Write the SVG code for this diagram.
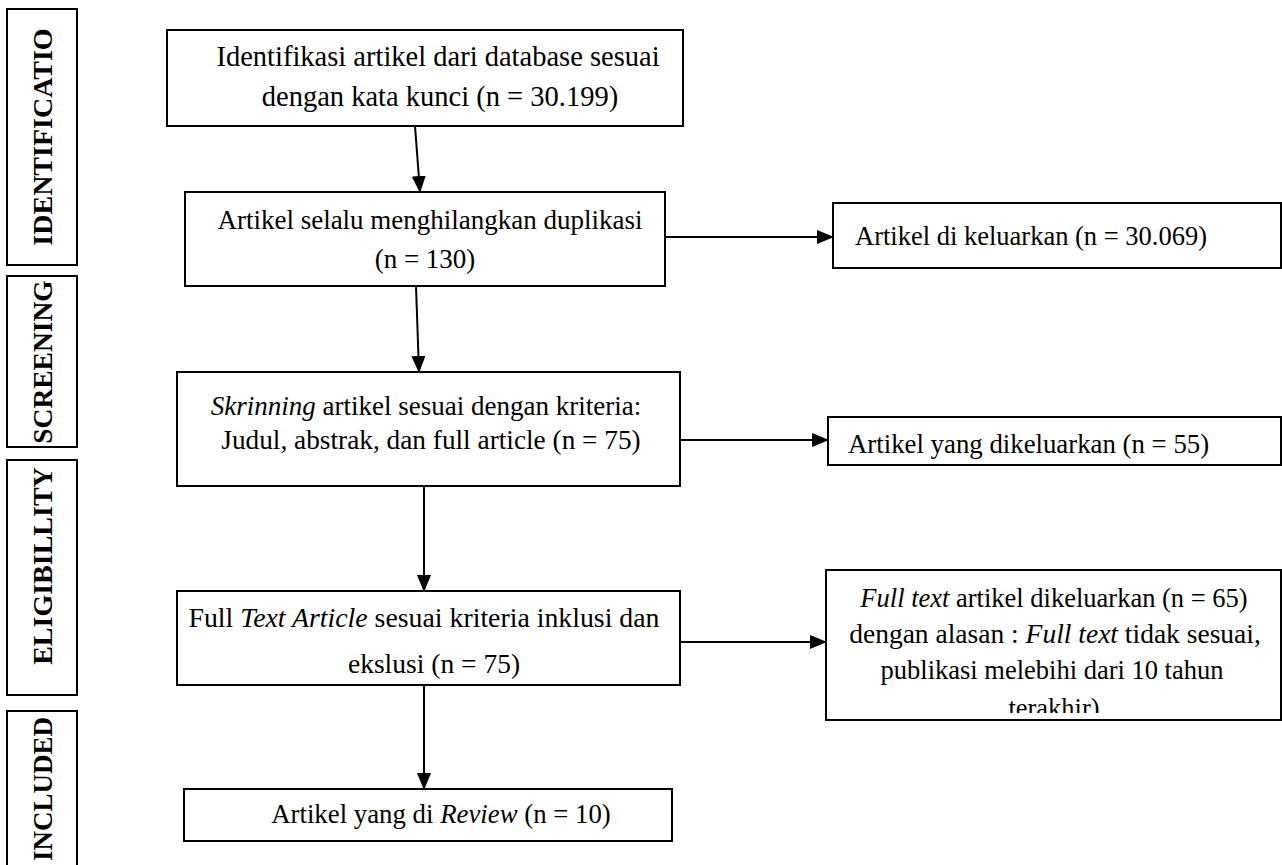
<svg xmlns="http://www.w3.org/2000/svg" width="1282" height="865" viewBox="0 0 1282 865">
<style>
.box{fill:#fff;stroke:#000;stroke-width:2}
.lbl{font-family:"Liberation Serif","Times New Roman",serif;font-weight:bold;font-size:28px;fill:#000}
.t{font-family:"Liberation Serif","Times New Roman",serif;font-size:26.5px;fill:#000}
.c{text-anchor:middle}
.conn line{stroke:#000;stroke-width:2}
</style>
<defs>
<marker id="ah" markerUnits="userSpaceOnUse" markerWidth="17" markerHeight="14" refX="16" refY="7" orient="auto">
<path d="M0,0 L17,7 L0,14 Z" fill="#000"/>
</marker>
<clipPath id="clip5"><rect x="828" y="417" width="453" height="42"/></clipPath>
<clipPath id="clip7"><rect x="826" y="570" width="455" height="143"/></clipPath>
</defs>
<rect width="1282" height="865" fill="#fff"/>

<g id="label-identification">
<rect class="box" x="7" y="9" width="70" height="256"/>
<text class="lbl c" transform="translate(52,137) rotate(-90)">IDENTIFICATIO</text>
</g>
<g id="label-screening">
<rect class="box" x="7" y="276" width="70" height="171"/>
<text class="lbl c" transform="translate(52,362) rotate(-90)" style="font-size:27.5px">SCREENING</text>
</g>
<g id="label-eligibility">
<rect class="box" x="7" y="460" width="70" height="235"/>
<text class="lbl c" transform="translate(52,566) rotate(-90)">ELIGIBILLITY</text>
</g>
<g id="label-included">
<rect class="box" x="7" y="711" width="70" height="170"/>
<text class="lbl c" transform="translate(52,789) rotate(-90)" style="font-size:27px">INCLUDED</text>
</g>

<g id="connectors" class="conn">
<line x1="415" y1="126" x2="420" y2="192" marker-end="url(#ah)"/>
<line x1="665" y1="237" x2="833" y2="237" marker-end="url(#ah)"/>
<line x1="416" y1="286" x2="419" y2="372" marker-end="url(#ah)"/>
<line x1="680" y1="440" x2="828" y2="440" marker-end="url(#ah)"/>
<line x1="424" y1="486" x2="424" y2="591" marker-end="url(#ah)"/>
<line x1="680" y1="642" x2="826" y2="642" marker-end="url(#ah)"/>
<line x1="424" y1="685" x2="424" y2="789" marker-end="url(#ah)"/>
</g>

<g id="n1">
<rect class="box" x="167" y="30" width="516" height="96"/>
<text class="t c" x="438" y="66" style="font-size:28.5px">Identifikasi artikel dari database sesuai</text>
<text class="t c" x="440" y="106" style="font-size:28.5px">dengan kata kunci (n = 30.199)</text>
</g>

<g id="n2">
<rect class="box" x="185" y="192" width="480" height="94"/>
<text class="t c" x="430" y="229" style="font-size:27px">Artikel selalu menghilangkan duplikasi</text>
<text class="t c" x="425" y="268" style="font-size:27px">(n = 130)</text>
</g>

<g id="n3">
<rect class="box" x="833" y="203" width="448" height="65"/>
<text class="t" x="855" y="245">Artikel di keluarkan (n = 30.069)</text>
</g>

<g id="n4">
<rect class="box" x="177" y="372" width="503" height="114"/>
<text class="t c" x="426" y="415" style="font-size:27px"><tspan font-style="italic">Skrinning</tspan> artikel sesuai dengan kriteria:</text>
<text class="t c" x="431" y="449" style="font-size:27.3px">Judul, abstrak, dan full article (n = 75)</text>
</g>

<g id="n5">
<rect class="box" x="828" y="417" width="453" height="48"/>
<text class="t" x="848" y="453" clip-path="url(#clip5)" style="font-size:26.8px">Artikel yang dikeluarkan (n = 55)</text>
</g>

<g id="n6">
<rect class="box" x="177" y="591" width="503" height="94"/>
<text class="t c" x="424" y="627" style="font-size:27.8px">Full <tspan font-style="italic">Text Article</tspan> sesuai kriteria inklusi dan</text>
<text class="t c" x="434" y="673" style="font-size:27.5px">ekslusi (n = 75)</text>
</g>

<g id="n7">
<rect class="box" x="826" y="570" width="455" height="150"/>
<g clip-path="url(#clip7)" class="t c" style="font-size:26.5px">
<text x="1054" y="607"><tspan font-style="italic">Full text</tspan> artikel dikeluarkan (n = 65)</text>
<text x="1055" y="643" style="font-size:27.5px">dengan alasan : <tspan font-style="italic">Full text</tspan> tidak sesuai,</text>
<text x="1052" y="679">publikasi melebihi dari 10 tahun</text>
<text x="1054" y="717">terakhir)</text>
</g>
</g>

<g id="n8">
<rect class="box" x="184" y="789" width="488" height="52"/>
<text class="t c" x="441" y="823" style="font-size:26.8px">Artikel yang di <tspan font-style="italic">Review</tspan> (n = 10)</text>
</g>
</svg>
